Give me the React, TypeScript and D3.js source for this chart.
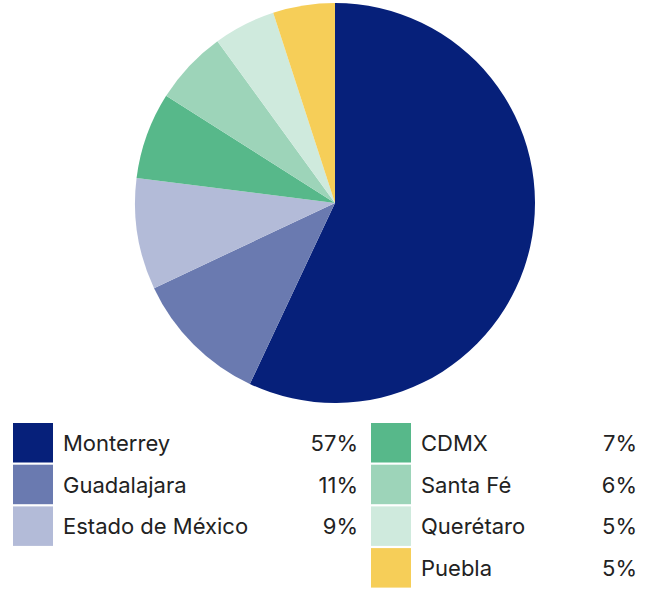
import React from "react";
import * as d3 from "d3";

const categories = ["Monterrey", "Guadalajara", "Estado de México", "CDMX", "Santa Fé", "Querétaro", "Puebla"];
const values = [57, 11, 9, 7, 6, 5, 5];
const valueLabels = ["57%", "11%", "9%", "7%", "6%", "5%", "5%"];
const colors = ["#06207A", "#6A7AB0", "#B3BBD8", "#57B88A", "#9DD4B9", "#CFEADD", "#F6CE58"];

export default function App() {
  const width = 652;
  const height = 590;
  const cx = 335;
  const cy = 203;
  const r = 200;
  const data = categories.map((c, i) => ({ c, v: values[i], label: valueLabels[i], color: colors[i] }));
  const pie = d3.pie<any>().value((d) => d.v).sort(null);
  const arc = d3.arc<any>().innerRadius(0).outerRadius(r);
  const arcs = pie(data);

  const rowY = d3.scaleLinear().domain([0, 1]).range([423, 464.7]);
  const cols = [
    { swX: 13, labX: 63, valX: 358, items: data.slice(0, 3) },
    { swX: 371, labX: 421, valX: 637, items: data.slice(3) },
  ];

  return (
    <svg width={width} height={height} style={{ position: "absolute", left: 0, top: 0 }}>
      <g transform={`translate(${cx},${cy})`}>
        {arcs.map((a, i) => (
          <path key={i} d={arc(a) as string} fill={a.data.color} />
        ))}
      </g>
      {cols.map((col, ci) => (
        <g key={ci}>
          {col.items.map((d, i) => (
            <g key={i}>
              <rect x={col.swX} y={rowY(i)} width={40} height={39.5} fill={d.color} />
              <text
                x={col.labX}
                y={rowY(i) + 28}
                fontFamily="Inter, 'Liberation Sans', sans-serif"
                fontSize={22}
                fill="#222"
              >
                {d.c}
              </text>
              <text
                x={col.valX}
                y={rowY(i) + 28}
                textAnchor="end"
                fontFamily="Inter, 'Liberation Sans', sans-serif"
                fontSize={22}
                fill="#222"
              >
                {d.label}
              </text>
            </g>
          ))}
        </g>
      ))}
    </svg>
  );
}
